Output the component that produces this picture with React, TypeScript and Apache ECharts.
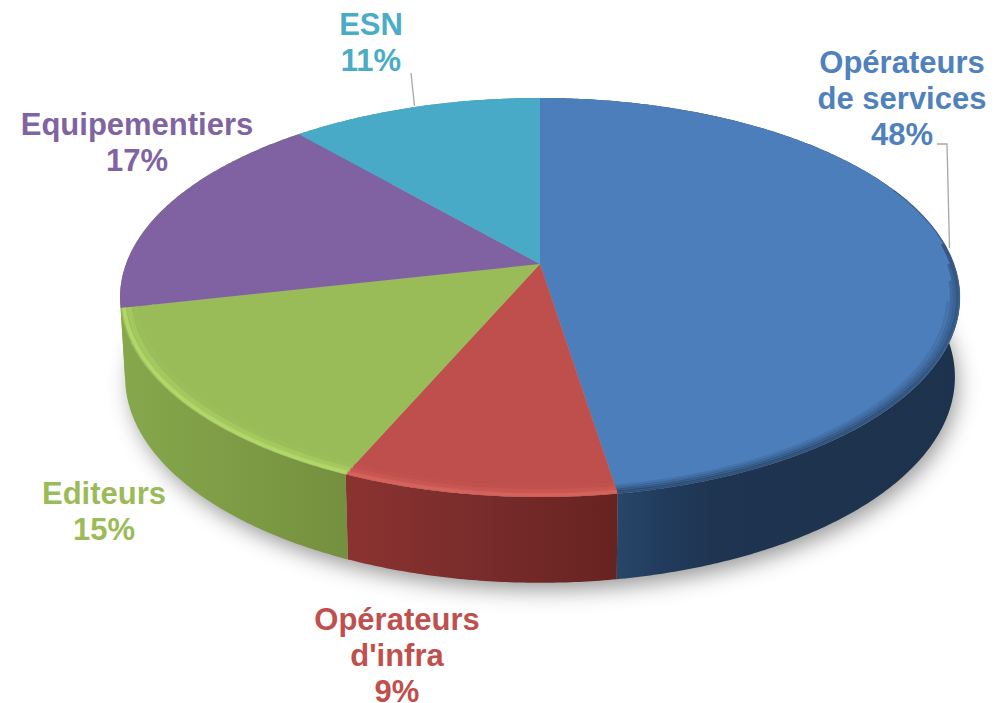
import React, { useEffect, useRef } from "react";
import * as echarts from "echarts";

const names = ["Opérateurs\nde services", "Opérateurs\nd'infra", "Editeurs", "Equipementiers", "ESN"];
const shares = [47.5, 9.0, 15.0, 17.1, 11.4];
const topColors = ["#4c7ebb", "#bf4f4c", "#99bb58", "#8061a1", "#48aac6"];
const labelColors = ["#4f81bd", "#c0504d", "#9bbb59", "#8064a2", "#4bacc6"];
const labelSpots = [[902, 98], [397, 655], [104, 511], [137, 142], [371, 42]];
const wallStops = [
  [[0, "#274668"], [0.12, "#223c5e"], [0.3, "#1e3450"], [1, "#1d324c"]],
  [[0, "#8c3331"], [0.5, "#782c2b"], [1, "#672321"]],
  [[0, "#86a84b"], [0.5, "#7e9c45"], [1, "#75903f"]],
  [[0, "#86a84b"], [1, "#86a84b"]],
  [[0, "#3b8ea4"], [1, "#3b8ea4"]],
];
const wallSpans = [[617, 960], [343, 617], [120, 343], [120, 300], [300, 540]];

const TOP = { cx: 540, cy: 264, a: 414, b: 193.9, k: 0.168 };
const BOTTOM = { cx: 540, cy: 342.4, a: 409, b: 200, k: 0.168 };

const rad = (d: number) => (d * Math.PI) / 180;
const project = (deg: number, r: number, p: typeof TOP) => {
  const u = r * Math.sin(rad(deg));
  const v = r * Math.cos(rad(deg));
  const w = 1 + p.k * v;
  return [p.cx + (p.a * u) / w, p.cy - (p.b * v) / w];
};
const arc = (from: number, to: number, r: number, p: typeof TOP) => {
  const out: number[][] = [];
  const n = Math.max(2, Math.ceil(Math.abs(to - from) * 2));
  for (let i = 0; i <= n; i++) out.push(project(from + ((to - from) * i) / n, r, p));
  return out;
};
const range = (i: number) => {
  const sum = shares.reduce((a, b) => a + b, 0);
  const before = shares.slice(0, i).reduce((a, b) => a + b, 0);
  return [(before / sum) * 360, ((before + shares[i]) / sum) * 360];
};

const rims = [
  [
    [66, 0.999, "#1d324c", 0.3, 1.5],
    [84, 0.994, "#1d324c", 0.5, 3],
    [90, 0.987, "#1d324c", 0.36, 3],
    [95, 0.98, "#1d324c", 0.24, 3],
    [101, 0.972, "#1d324c", 0.13, 3],
  ],
  [[0, 0.992, "#d9655f", 0.85, 4], [0, 0.98, "#d05c57", 0.55, 5], [0, 0.966, "#c65551", 0.35, 5]],
  [[0, 0.992, "#b4da6a", 0.9, 4], [0, 0.98, "#aad064", 0.65, 5], [0, 0.966, "#a0c45e", 0.4, 5]],
];

const LINE_STEP = 36;

export default function App() {
  const ref = useRef<HTMLDivElement>(null);
  useEffect(() => {
    document.body.style.margin = "0";
    const chart = echarts.init(ref.current!, undefined, { renderer: "svg" });
    const indexData = shares.map((v) => [v]);
    chart.setOption({
      animation: false,
      backgroundColor: "#ffffff",
      tooltip: { show: false },
      series: [
        {
          type: "custom",
          coordinateSystem: "none",
          silent: true,
          z: 1,
          data: [[1]],
          renderItem: () => ({
            type: "polygon",
            shape: { points: arc(0, 360, 0.995, BOTTOM) },
            style: {
              fill: "#a8a8a8",
              shadowColor: "rgba(0,0,0,0.42)",
              shadowBlur: 22,
              shadowOffsetX: 4,
              shadowOffsetY: 8,
            },
          }),
        },
        {
          type: "custom",
          coordinateSystem: "none",
          silent: true,
          z: 2,
          data: indexData,
          renderItem: (params: any) => {
            const i = params.dataIndex;
            const [s, e] = range(i);
            const [x0, x1] = wallSpans[i];
            return {
              type: "polygon",
              shape: { points: [...arc(s, e, 1, TOP), ...arc(e, s, 1, BOTTOM)] },
              style: {
                fill: new echarts.graphic.LinearGradient(
                  x0, 0, x1, 0,
                  wallStops[i].map(([offset, color]) => ({ offset, color })) as any,
                  true
                ),
              },
            };
          },
        },
        {
          type: "custom",
          coordinateSystem: "none",
          silent: true,
          z: 3,
          data: indexData,
          renderItem: (params: any) => {
            const i = params.dataIndex;
            const [s, e] = range(i);
            return {
              type: "polygon",
              shape: { points: [[TOP.cx, TOP.cy], ...arc(s, e, 1, TOP)] },
              style: { fill: topColors[i] },
            };
          },
        },
        {
          type: "custom",
          coordinateSystem: "none",
          silent: true,
          z: 4,
          data: indexData.slice(0, 3),
          renderItem: (params: any) => {
            const i = params.dataIndex;
            const [s, e] = range(i);
            return {
              type: "group",
              children: rims[i].map(([from, r, color, alpha, width]: any) => ({
                type: "polyline",
                shape: { points: arc(Math.max(s, from), e, r, TOP) },
                style: { stroke: color, opacity: alpha, lineWidth: width, fill: "none", lineCap: "butt" },
              })),
            };
          },
        },
      ],
      graphic: [
        ...names.flatMap((n, i) => {
          const lines = `${n}\n${Math.round(shares[i])}%`.split("\n");
          return lines.map((line, j) => ({
            type: "text",
            x: labelSpots[i][0],
            y: labelSpots[i][1] + (j - (lines.length - 1) / 2) * LINE_STEP,
            z: 10,
            style: {
              text: line,
              fill: labelColors[i],
              font: 'bold 31px "Liberation Sans", Arial, sans-serif',
              lineHeight: 24,
              align: "center",
              verticalAlign: "middle",
            },
          }));
        }),
        {
          type: "polyline",
          z: 10,
          shape: { points: [[937, 144], [947, 144], [949.5, 248]] },
          style: { stroke: "#a6a6a6", lineWidth: 1.3, fill: "none" },
        },
        {
          type: "polyline",
          z: 10,
          shape: { points: [[411, 73], [414.5, 106]] },
          style: { stroke: "#a6a6a6", lineWidth: 1.3, fill: "none" },
        },
      ],
    });
    return () => chart.dispose();
  }, []);
  return <div ref={ref} style={{ position: "absolute", left: 0, top: 0, width: 1002, height: 703 }} />;
}
